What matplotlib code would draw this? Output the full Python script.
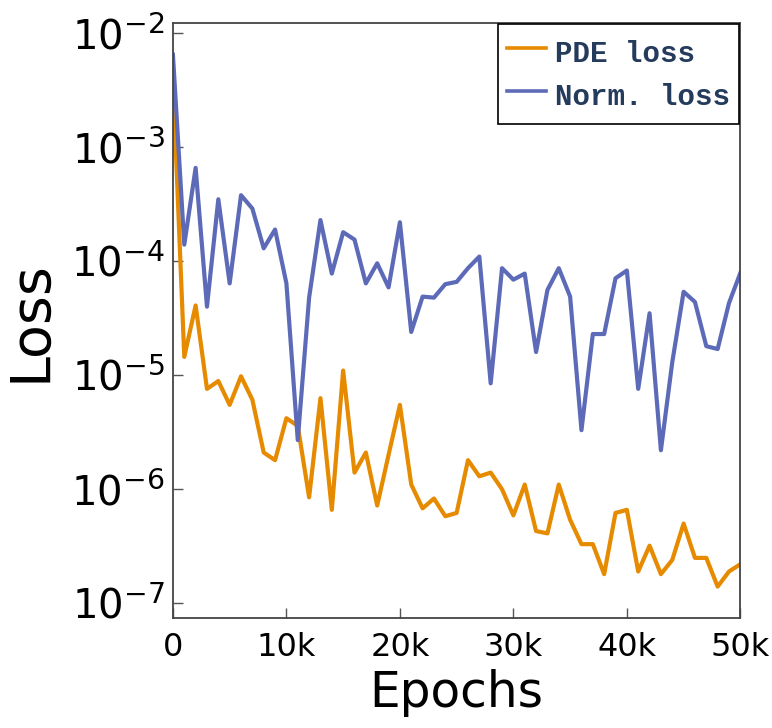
import numpy as np
import matplotlib
matplotlib.use("Agg")
import matplotlib.pyplot as plt
from matplotlib.ticker import FixedLocator, FuncFormatter

# epochs, one point per 1k
epochs = np.arange(0, 51) * 1000

pde_loss = [4.0e-3, 1.45e-5, 4.1e-5, 7.6e-6, 8.9e-6, 5.5e-6, 9.8e-6, 6.1e-6, 2.1e-6, 1.8e-6,
            4.2e-6, 3.6e-6, 8.5e-7, 6.3e-6, 6.6e-7, 1.1e-5, 1.4e-6, 2.1e-6, 7.2e-7, 2.0e-6,
            5.5e-6, 1.1e-6, 6.8e-7, 8.3e-7, 5.8e-7, 6.2e-7, 1.8e-6, 1.3e-6, 1.4e-6, 1.0e-6,
            5.9e-7, 1.1e-6, 4.3e-7, 4.1e-7, 1.1e-6, 5.4e-7, 3.3e-7, 3.3e-7, 1.8e-7, 6.2e-7,
            6.6e-7, 1.9e-7, 3.2e-7, 1.8e-7, 2.4e-7, 5.0e-7, 2.5e-7, 2.5e-7, 1.4e-7, 1.9e-7,
            2.2e-7]

norm_loss = [6.5e-3, 1.4e-4, 6.6e-4, 4.0e-5, 3.5e-4, 6.4e-5, 3.8e-4, 2.9e-4, 1.3e-4, 1.9e-4,
             6.4e-5, 2.7e-6, 4.8e-5, 2.3e-4, 7.8e-5, 1.8e-4, 1.55e-4, 6.4e-5, 9.6e-5, 5.9e-5,
             2.2e-4, 2.4e-5, 4.9e-5, 4.8e-5, 6.3e-5, 6.6e-5, 8.7e-5, 1.1e-4, 8.5e-6, 8.7e-5,
             6.9e-5, 7.8e-5, 1.6e-5, 5.6e-5, 8.7e-5, 4.9e-5, 3.3e-6, 2.3e-5, 2.3e-5, 7.1e-5,
             8.3e-5, 7.6e-6, 3.5e-5, 2.2e-6, 1.3e-5, 5.4e-5, 4.4e-5, 1.8e-5, 1.7e-5, 4.3e-5,
             7.9e-5]

x_ticks = [0, 10000, 20000, 30000, 40000, 50000]
x_labels = ["0", "10k", "20k", "30k", "40k", "50k"]
y_ticks = [1e-7, 1e-6, 1e-5, 1e-4, 1e-3, 1e-2]

fig = plt.figure(figsize=(7.72, 7.28), dpi=100)
ax = fig.add_axes([0.224, 0.151, 0.735, 0.817])

ax.plot(epochs, pde_loss, color="#E68A00", lw=3.0, label="PDE loss")
ax.plot(epochs, norm_loss, color="#5D6AB8", lw=3.0, label="Norm. loss")

ax.set_yscale("log")
ax.set_xlim(0, 50000)
ax.set_ylim(10**-7.13, 10**-1.912)

ax.xaxis.set_major_locator(FixedLocator(x_ticks))
ax.set_xticklabels(x_labels)
ax.yaxis.set_major_locator(FixedLocator(y_ticks))
ax.yaxis.set_minor_locator(FixedLocator([]))
ax.yaxis.set_major_formatter(FuncFormatter(lambda v, p: r"$10^{%d}$" % round(np.log10(v))))

ax.tick_params(axis="both", direction="in", length=7, width=1, color="#555555")
ax.tick_params(axis="x", labelsize=23, pad=10)
ax.tick_params(axis="y", labelsize=29, pad=6)
for s in ax.spines.values():
    s.set_color("#444444")
    s.set_linewidth(1.3)

ax.set_xlabel("Epochs", fontsize=35, labelpad=4)
ax.set_ylabel("Loss", fontsize=40, labelpad=10)

leg = ax.legend(loc="upper right", fancybox=False, framealpha=1, edgecolor="black",
                prop={"family": "Liberation Mono", "weight": "bold", "size": 21},
                handlelength=1.35, handleheight=1.7, handletextpad=0.3,
                borderaxespad=0.0, borderpad=0.3, labelspacing=0.12,
                bbox_to_anchor=(0.997, 0.998))
leg.get_frame().set_linewidth(1.2)
for t in leg.get_texts():
    t.set_color("#243B5C")
for l in leg.get_lines():
    l.set_linewidth(2.6)

fig.savefig("out.png", dpi=100)
